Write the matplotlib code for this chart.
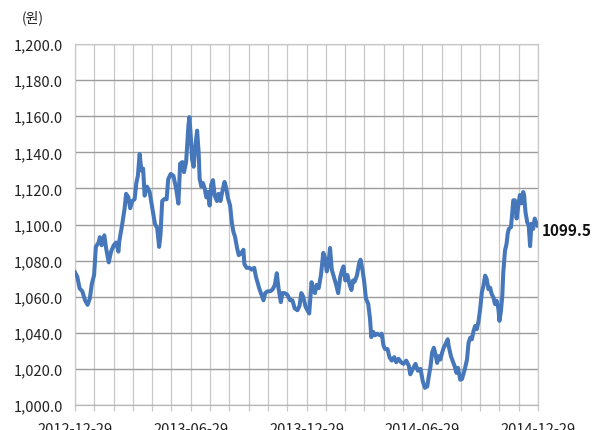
import matplotlib
matplotlib.use("Agg")
import matplotlib.pyplot as plt
from matplotlib.ticker import FuncFormatter, MultipleLocator

plt.rcParams['font.family'] = ['Noto Sans CJK KR', 'DejaVu Sans']

# 원/달러 환율 (2012-12-29 ~ 2014-12-29), x = 시작일로부터 개월 수
months = [0.00, 0.12, 0.24, 0.38, 0.52, 0.65, 0.77, 0.87, 0.99, 1.08,
          1.22, 1.29, 1.38, 1.52, 1.61, 1.75, 1.87, 2.01, 2.13, 2.25,
          2.30, 2.44, 2.57, 2.65, 2.77, 2.86, 2.97, 3.09, 3.18, 3.26,
          3.35, 3.44, 3.53, 3.61, 3.73, 3.87, 4.01, 4.14, 4.26, 4.36,
          4.43, 4.52, 4.62, 4.75, 4.83, 4.96, 5.10, 5.24, 5.36, 5.45,
          5.57, 5.65, 5.76, 5.83, 5.88, 5.93, 6.00, 6.07, 6.15, 6.24,
          6.33, 6.41, 6.46, 6.55, 6.63, 6.72, 6.81, 6.89, 6.98, 7.06,
          7.15, 7.24, 7.36, 7.44, 7.54, 7.63, 7.75, 7.84, 7.92, 8.04,
          8.13, 8.21, 8.30, 8.40, 8.49, 8.61, 8.73, 8.78, 8.90, 9.04,
          9.16, 9.29, 9.38, 9.46, 9.55, 9.67, 9.77, 9.86, 9.98, 10.12,
          10.24, 10.36, 10.46, 10.55, 10.67, 10.75, 10.87, 11.01, 11.15, 11.27,
          11.39, 11.53, 11.64, 11.73, 11.83, 11.95, 12.05, 12.14, 12.26, 12.35,
          12.44, 12.52, 12.63, 12.75, 12.87, 12.96, 13.05, 13.14, 13.22, 13.31,
          13.42, 13.54, 13.64, 13.75, 13.85, 13.92, 14.01, 14.12, 14.24, 14.33,
          14.41, 14.50, 14.62, 14.73, 14.80, 14.90, 14.99, 15.08, 15.20, 15.29,
          15.36, 15.46, 15.55, 15.67, 15.81, 15.90, 15.99, 16.07, 16.20, 16.30,
          16.42, 16.55, 16.65, 16.77, 16.90, 17.03, 17.17, 17.30, 17.38, 17.51,
          17.65, 17.77, 17.91, 18.03, 18.14, 18.26, 18.34, 18.43, 18.51, 18.60,
          18.69, 18.77, 18.86, 18.94, 19.03, 19.11, 19.20, 19.32, 19.37, 19.49,
          19.58, 19.68, 19.77, 19.85, 19.97, 20.06, 20.20, 20.32, 20.40, 20.49,
          20.57, 20.66, 20.74, 20.83, 20.92, 21.00, 21.09, 21.17, 21.26, 21.34,
          21.43, 21.52, 21.60, 21.69, 21.77, 21.86, 21.95, 22.00, 22.07, 22.15,
          22.20, 22.29, 22.37, 22.43, 22.49, 22.60, 22.67, 22.72, 22.80, 22.89,
          22.97, 23.06, 23.15, 23.23, 23.28, 23.35, 23.44, 23.52, 23.59, 23.66,
          23.75, 23.83, 23.92, 23.97]

rate = [1073.5, 1071.0, 1064.6, 1063.0, 1058.0, 1055.5, 1059.0, 1067.0, 1072.0, 1087.6,
        1090.0, 1093.0, 1088.5, 1094.0, 1087.0, 1079.0, 1085.0, 1088.5, 1090.0, 1085.0,
        1091.0, 1099.6, 1108.8, 1117.0, 1115.0, 1109.0, 1113.0, 1114.0, 1123.0, 1127.0,
        1139.0, 1130.0, 1131.0, 1116.0, 1121.0, 1118.0, 1109.0, 1100.5, 1098.0, 1087.6,
        1094.0, 1113.0, 1114.0, 1114.0, 1125.0, 1128.0, 1127.0, 1120.0, 1111.6, 1133.7,
        1134.6, 1129.0, 1134.6, 1146.6, 1155.0, 1159.5, 1149.0, 1136.0, 1132.0, 1143.6,
        1152.0, 1140.0, 1125.5, 1121.0, 1123.0, 1120.0, 1115.0, 1118.0, 1110.5, 1122.0,
        1124.6, 1116.0, 1113.0, 1117.0, 1113.0, 1118.0, 1123.6, 1120.0, 1115.0, 1110.5,
        1101.0, 1096.0, 1093.0, 1087.0, 1083.0, 1084.0, 1086.0, 1078.0, 1076.0, 1076.0,
        1075.0, 1076.0, 1071.0, 1068.0, 1064.6, 1061.0, 1058.0, 1062.0, 1063.0, 1063.0,
        1064.0, 1066.5, 1073.0, 1064.6, 1057.0, 1062.0, 1062.0, 1061.0, 1058.0, 1058.0,
        1053.5, 1052.5, 1055.0, 1062.0, 1060.0, 1054.5, 1052.5, 1050.7, 1068.0, 1063.7,
        1062.0, 1066.5, 1064.7, 1072.0, 1084.3, 1081.5, 1074.0, 1078.7, 1087.0, 1075.0,
        1071.0, 1066.5, 1062.0, 1071.0, 1075.0, 1076.8, 1069.0, 1072.0, 1066.5, 1063.7,
        1069.0, 1068.4, 1072.0, 1078.6, 1080.5, 1075.0, 1068.4, 1059.0, 1056.0, 1048.0,
        1037.6, 1040.5, 1038.6, 1039.5, 1038.6, 1039.5, 1033.0, 1031.0, 1031.0, 1026.5,
        1024.6, 1026.5, 1023.7, 1025.6, 1023.7, 1022.8, 1024.6, 1021.8, 1017.0, 1020.0,
        1022.8, 1019.0, 1020.0, 1013.0, 1009.5, 1010.3, 1016.0, 1021.5, 1029.0, 1031.7,
        1028.0, 1023.3, 1027.0, 1025.2, 1029.0, 1031.7, 1033.6, 1036.4, 1032.6, 1027.0,
        1024.3, 1021.5, 1017.8, 1020.6, 1014.0, 1014.4, 1019.6, 1025.2, 1034.5, 1037.3,
        1036.4, 1041.0, 1043.8, 1042.0, 1046.6, 1053.0, 1062.4, 1066.0, 1071.7, 1069.8,
        1064.2, 1065.0, 1061.4, 1059.6, 1055.9, 1057.7, 1053.0, 1046.6, 1051.2, 1060.5,
        1073.5, 1085.6, 1089.3, 1095.0, 1097.6, 1098.6, 1107.0, 1113.4, 1113.4, 1103.3,
        1109.8, 1116.3, 1111.7, 1118.0, 1116.3, 1107.0, 1101.3, 1099.4, 1088.0, 1100.4,
        1097.6, 1103.3, 1100.4, 1099.5]

tick_pos = [0, 6, 12, 18, 24]
tick_labels = ["2012-12-29", "2013-06-29", "2013-12-29", "2014-06-29", "2014-12-29"]
last_label = "1099.5"

fig = plt.figure(figsize=(6.02, 4.31), dpi=100)
ax = fig.add_axes([75 / 602, 25 / 431, 463 / 602, 361 / 431])

ax.plot(months, rate, color='#4677BA', lw=2.9, solid_joinstyle='round', zorder=3)

ax.set_xlim(0, 24)
ax.set_ylim(1000, 1200)
ax.yaxis.set_major_locator(MultipleLocator(20))
ax.yaxis.set_major_formatter(FuncFormatter(lambda v, p: f"{v:,.1f}"))
ax.set_xticks(tick_pos)
ax.set_xticklabels(tick_labels)
ax.xaxis.set_minor_locator(MultipleLocator(1))

# 격자: 세로는 연한 회색, 가로는 진한 회색
ax.grid(axis='x', which='both', color='#C8C8C8', lw=0.9)
ax.grid(axis='y', which='major', color='#9C9C9C', lw=1.0)
ax.set_axisbelow(True)
for s in ax.spines.values():
    s.set_color('#C8C8C8')
    s.set_linewidth(0.9)
ax.spines['bottom'].set_color('#B8B8B8')

ax.tick_params(axis='y', length=0, pad=8.5, labelsize=10.5, colors='#222222')
ax.tick_params(axis='x', which='both', length=4, color='#C8C8C8', width=0.9)
ax.tick_params(axis='x', which='major', pad=8, labelsize=10.5, labelcolor='#222222')

fig.text(33 / 602, 1 - 18 / 431, '(원)', ha='center', va='center', fontsize=10, color='#222222')
ax.annotate(last_label, xy=(months[-1], rate[-1]), xytext=(3, -3), textcoords='offset points',
            ha='left', va='center', fontsize=11, fontweight='bold', color='#111111',
            annotation_clip=False)

fig.savefig('out.png', dpi=100)
